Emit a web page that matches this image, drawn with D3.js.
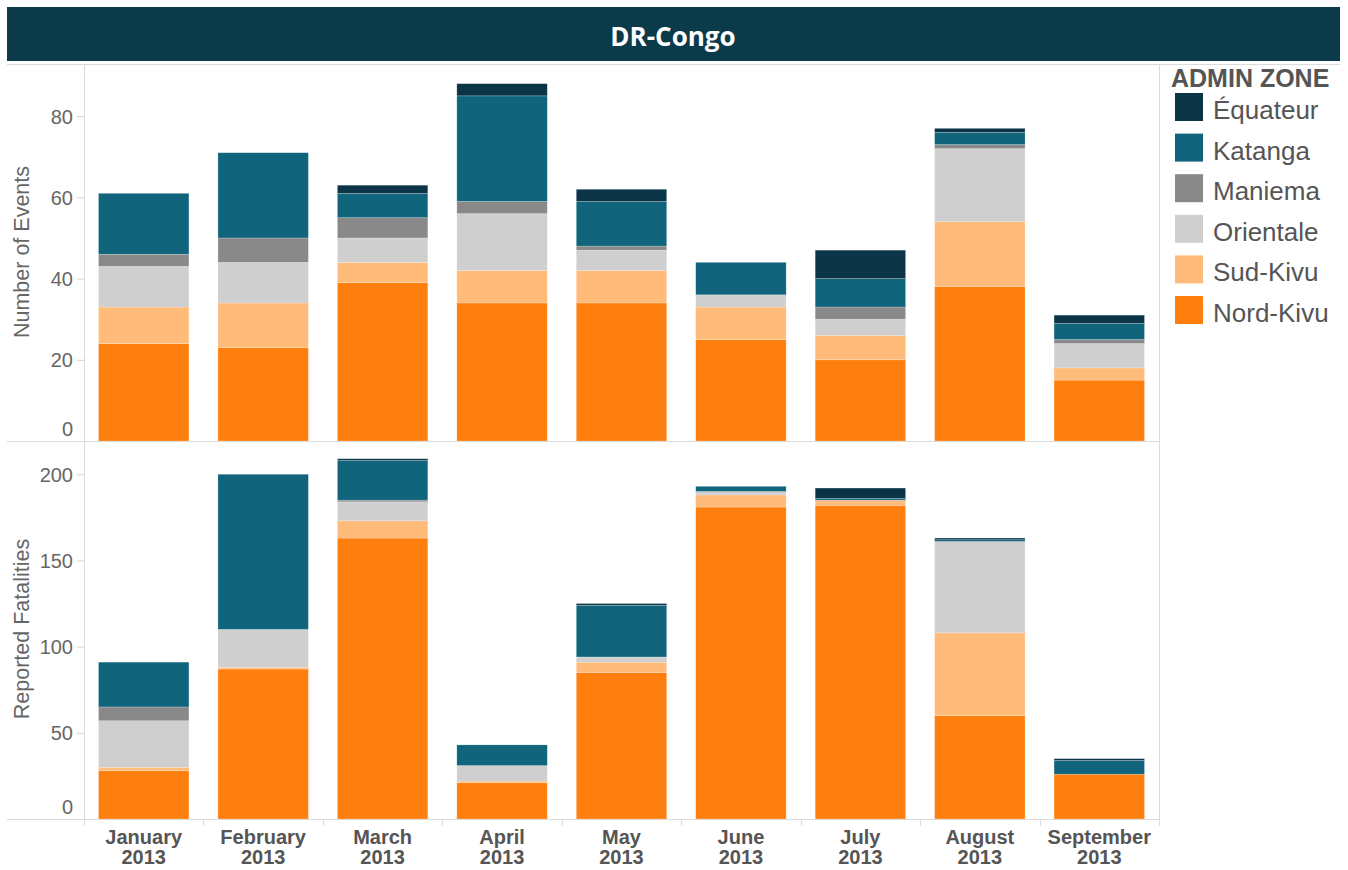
<!DOCTYPE html>
<html><head><meta charset="utf-8">
<script src="https://cdn.jsdelivr.net/npm/d3@7"></script>
<style>body{margin:0;background:#fff;}svg{display:block;font-family:"Liberation Sans",Arial,sans-serif;}</style>
</head><body><svg id="c" width="1348" height="870"></svg>
<script>
const months = ["January","February","March","April","May","June","July","August","September"];
const year = "2013";
const zones = ["Nord-Kivu","Sud-Kivu","Orientale","Maniema","Katanga","Équateur"];
const legendOrder = ["Équateur","Katanga","Maniema","Orientale","Sud-Kivu","Nord-Kivu"];
const colors = ["#ff7f0e","#ffbb7a","#cfcfcf","#898989","#10657c","#0b3547"];
// Number of events per zone, by month
const evNordKivu = [24,23,39,34,34,25,20,38,15];
const evSudKivu  = [9,11,5,8,8,8,6,16,3];
const evOrientale= [10,10,6,14,5,3,4,18,6];
const evManiema  = [3,6,5,3,1,0,3,1,1];
const evKatanga  = [15,21,6,26,11,8,7,3,4];
const evEquateur = [0,0,2,3,3,0,7,1,2];
// Reported fatalities per zone, by month
const faNordKivu = [28,87,163,21,85,181,182,60,26];
const faSudKivu  = [2,1,10,1,6,7,3,48,0];
const faOrientale= [27,22,11,9,3,2,0,53,0];
const faManiema  = [8,0,1,0,0,0,0,0,0];
const faKatanga  = [26,90,23,12,30,3,1,1,8];
const faEquateur = [0,0,1,0,1,0,6,1,1];
const evTicks = [0,20,40,60,80];
const faTicks = [0,50,100,150,200];

const events = [evNordKivu,evSudKivu,evOrientale,evManiema,evKatanga,evEquateur];
const fatal = [faNordKivu,faSudKivu,faOrientale,faManiema,faKatanga,faEquateur];

const svg = d3.select("#c");
const color = d3.scaleOrdinal().domain(zones).range(colors);

// title bar
svg.append("rect").attr("x",7).attr("y",7).attr("width",1333).attr("height",54).attr("fill","#0b3a4a");
svg.append("text").attr("x",673).attr("y",46).attr("text-anchor","middle")
  .attr("font-family","'Open Sans',sans-serif").attr("font-weight","bold").attr("font-size",26)
  .attr("fill","#fff").text("DR-Congo");

const L = 84, R = 1159;
const x = d3.scaleBand().domain(months).range([L,R]).paddingInner(0.243).paddingOuter(0.1215);

function panel(data, top, bottom, maxV, ticks, title) {
  const y = d3.scaleLinear().domain([0,maxV]).range([bottom, top]);
  const rows = months.map((m,i)=>{const o={month:m}; zones.forEach((z,k)=>o[z]=data[k][i]); return o;});
  const stack = d3.stack().keys(zones)(rows);
  const g = svg.append("g");
  g.selectAll("g.s").data(stack).join("g").attr("fill",d=>color(d.key))
    .selectAll("rect").data(d=>d).join("rect")
    .attr("x",d=>x(d.data.month)).attr("width",x.bandwidth())
    .attr("y",d=>y(d[1])).attr("height",d=>Math.max(0,y(d[0])-y(d[1])))
    .attr("stroke","rgba(255,255,255,0.35)").attr("stroke-width",0.6);
  const ax = g.append("g").attr("transform",`translate(${L},0)`)
    .call(d3.axisLeft(y).tickValues(ticks).tickSize(7).tickPadding(4));
  ax.select(".domain").remove();
  ax.selectAll("line").attr("stroke","#d4d4d4");
  ax.selectAll("text").attr("fill","#666").attr("font-size",20)
    .attr("dy", d => d===0 ? "-0.3em" : "0.35em");
  g.append("text").attr("transform",`translate(29,${(top+bottom)/2 - 1}) rotate(-90)`)
    .attr("text-anchor","middle").attr("fill","#666").attr("font-size",21.5).text(title);
}
panel(events, 65, 441, 92.6, evTicks, "Number of Events");
panel(fatal, 441, 819, 219.3, faTicks, "Reported Fatalities");

// frame lines
const lc = "#dcdcdc";
svg.append("line").attr("x1",7).attr("x2",1340).attr("y1",64.5).attr("y2",64.5).attr("stroke",lc);
svg.append("line").attr("x1",7).attr("x2",R).attr("y1",441.5).attr("y2",441.5).attr("stroke",lc);
svg.append("line").attr("x1",7).attr("x2",R).attr("y1",819.5).attr("y2",819.5).attr("stroke",lc);
svg.append("line").attr("x1",L+0.5).attr("x2",L+0.5).attr("y1",64).attr("y2",826).attr("stroke",lc);
svg.append("line").attr("x1",R+0.5).attr("x2",R+0.5).attr("y1",64).attr("y2",826).attr("stroke",lc);

// x axis
const xa = svg.append("g").attr("transform","translate(0,819)")
  .call(d3.axisBottom(x).tickSize(0).tickFormat(""));
xa.select(".domain").remove();
months.forEach((m,i)=>{
  if(i>0){ const bx = Math.round(x(m) - x.step()*x.paddingInner()/2)+0.5;
    svg.append("line").attr("x1",bx).attr("x2",bx).attr("y1",820).attr("y2",826).attr("stroke",lc);}
});
xa.selectAll(".tick").each(function(m){
  const t = d3.select(this);
  t.append("text").attr("y",25).attr("text-anchor","middle").attr("fill","#555")
    .attr("font-weight","bold").attr("font-size",20).text(m);
  t.append("text").attr("y",45).attr("text-anchor","middle").attr("fill","#555")
    .attr("font-weight","bold").attr("font-size",20).text(year);
});

// legend
const lg = svg.append("g");
lg.append("text").attr("x",1171).attr("y",87).attr("fill","#555").attr("font-weight","bold")
  .attr("font-size",25).text("ADMIN ZONE");
legendOrder.forEach((z,i)=>{
  const yy = 93 + i*40.6;
  lg.append("rect").attr("x",1175).attr("y",yy).attr("width",28).attr("height",28).attr("fill",color(z));
  lg.append("text").attr("x",1213).attr("y",yy+26).attr("fill","#555").attr("font-size",26).text(z);
});
</script></body></html>
